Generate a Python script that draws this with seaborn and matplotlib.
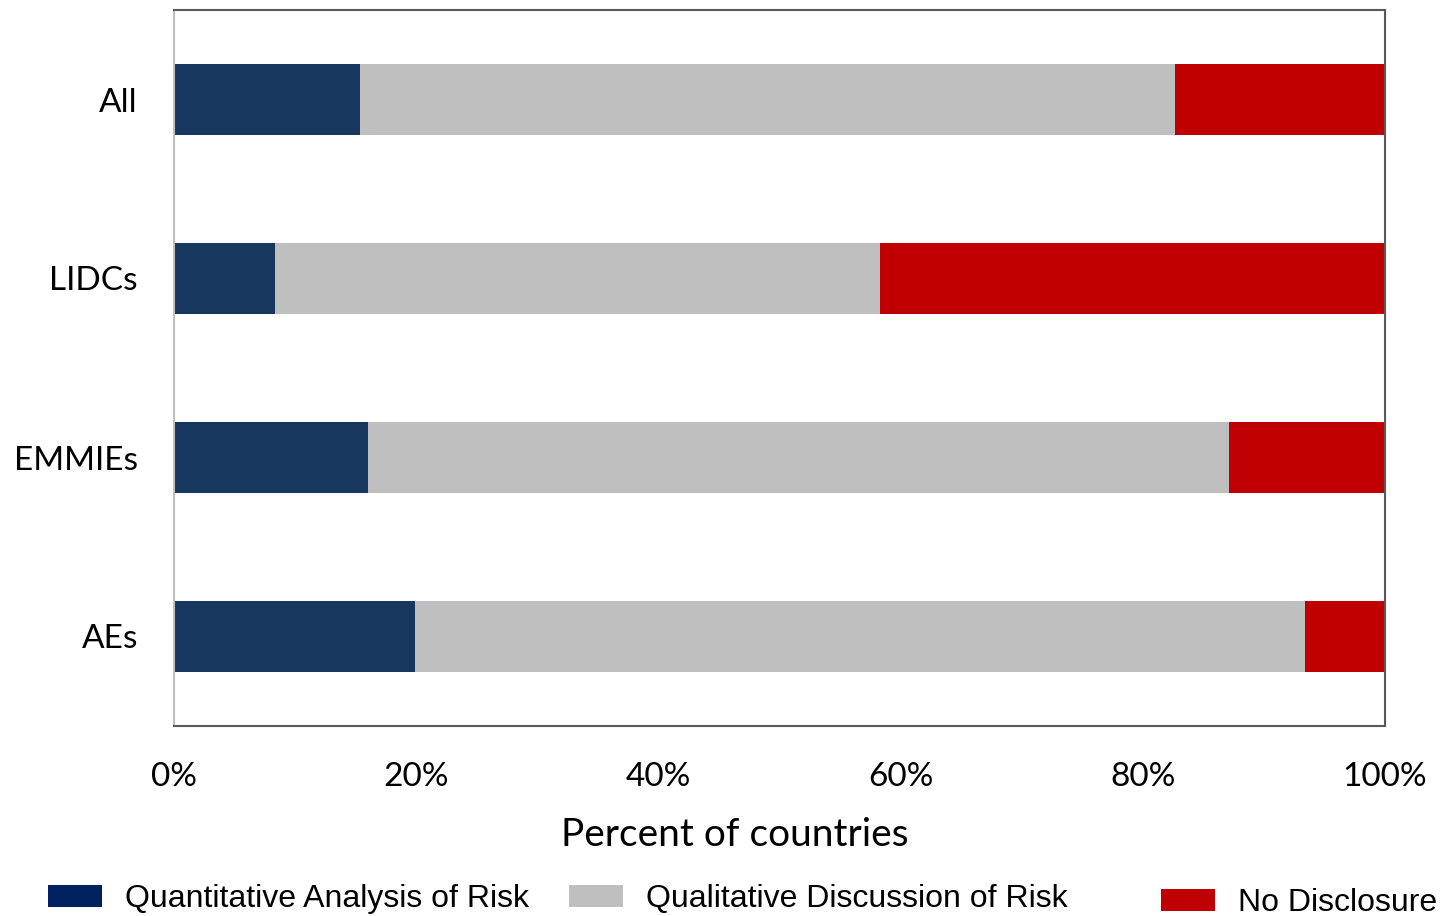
import matplotlib
matplotlib.use("Agg")
import matplotlib.pyplot as plt
import matplotlib.patches as mpatches
import seaborn as sns
import pandas as pd
import numpy as np

categories = ["All", "LIDCs", "EMMIEs", "AEs"]
quantitative = [15.4, 8.3, 16.0, 19.9]
qualitative = [67.3, 50.0, 71.1, 73.5]
no_disclosure = [17.3, 41.7, 12.9, 6.6]
series_names = ["Quantitative Analysis of Risk", "Qualitative Discussion of Risk", "No Disclosure"]
xticks = [0, 20, 40, 60, 80, 100]

sns.set_style("white")
plt.rcParams['font.family'] = ['Lato', 'DejaVu Sans']
plt.rcParams['text.color'] = 'black'
plt.rcParams['xtick.color'] = 'black'
plt.rcParams['ytick.color'] = 'black'
plt.rcParams['axes.labelcolor'] = 'black'

bar_blue = "#17375E"
legend_blue = "#002060"
gray = "#BFBFBF"
red = "#C00000"

df = pd.DataFrame({
    "cat": categories,
    "q1": np.array(quantitative),
    "q2": np.array(quantitative) + np.array(qualitative),
    "q3": np.array(quantitative) + np.array(qualitative) + np.array(no_disclosure),
})

fig = plt.figure(figsize=(14.43, 9.16), dpi=100)
ax = fig.add_axes([174/1443, 1 - 726/916, (1385 - 174)/1443, (726 - 10)/916])

sns.barplot(data=df, y="cat", x="q3", color=red, width=0.4, ax=ax, orient="h", saturation=1, linewidth=0)
sns.barplot(data=df, y="cat", x="q2", color=gray, width=0.4, ax=ax, orient="h", saturation=1, linewidth=0)
sns.barplot(data=df, y="cat", x="q1", color=bar_blue, width=0.4, ax=ax, orient="h", saturation=1, linewidth=0)

ax.set_xlim(0, 100)
ax.set_ylim(3.5, -0.5)
ax.set_xticks(xticks)
ax.set_xticklabels([f"{t}%" for t in xticks], fontsize=24)
ax.tick_params(axis="x", length=0, pad=26)
ax.tick_params(axis="y", length=0, pad=26, labelsize=24)
ax.set_ylabel("")
ax.set_xlabel("Percent of countries", fontsize=28, labelpad=16)
ax.xaxis.set_label_coords((735 - 174) / 1211, -0.127)

for side in ["top", "right", "bottom"]:
    ax.spines[side].set_color("#595959")
    ax.spines[side].set_linewidth(1.5)
ax.spines["left"].set_color("#BFBFBF")
ax.spines["left"].set_linewidth(1.5)

legend_font = {"family": "Liberation Sans", "size": 23}
colors_leg = [legend_blue, gray, red]
xs = [48/1443, 569/1443, 1161/1443]
ys = [899/916, 899/916, 903/916]
for name, c, x, y in zip(series_names, colors_leg, xs, ys):
    h = mpatches.Patch(facecolor=c, edgecolor="none")
    fig.legend(handles=[h], labels=[name], loc="center left", bbox_to_anchor=(x, 1 - y),
               frameon=False, prop=legend_font, handlelength=1.7, handleheight=0.7,
               handletextpad=0.7, borderpad=0, borderaxespad=0)

fig.savefig("out.png", dpi=100)
